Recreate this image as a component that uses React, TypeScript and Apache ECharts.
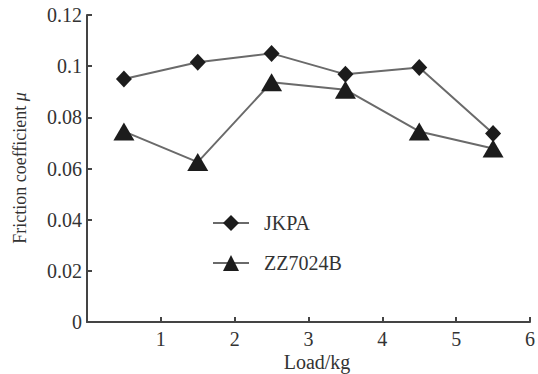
import React, { useEffect, useRef } from "react";
import * as echarts from "echarts";

const loads = [0.5, 1.5, 2.5, 3.5, 4.5, 5.5];
const jkpa = [0.095, 0.1015, 0.105, 0.0968, 0.0995, 0.0737];
const zz7024b = [0.0745, 0.0625, 0.0937, 0.0908, 0.0745, 0.0678];
const seriesNames = ["JKPA", "ZZ7024B"];
const xTicks = [0, 1, 2, 3, 4, 5, 6];
const yTicks = [0, 0.02, 0.04, 0.06, 0.08, 0.1, 0.12];

const FONT = "Liberation Serif";

export default function App() {
  const ref = useRef<HTMLDivElement>(null);
  useEffect(() => {
    if (!ref.current) return;
    const chart = echarts.init(ref.current, undefined, { renderer: "svg" });
    const axisColor = "#444";
    chart.setOption({
      animation: false,
      backgroundColor: "#fff",
      grid: { left: 87, right: 6, top: 15, bottom: 52 },
      xAxis: {
        type: "value",
        min: xTicks[0],
        max: xTicks[xTicks.length - 1],
        interval: 1,
        splitLine: { show: false },
        axisLine: { show: true, lineStyle: { color: axisColor, width: 2 } },
        axisTick: { show: true, inside: true, length: 5, lineStyle: { color: axisColor, width: 2 } },
        axisLabel: {
          margin: 7,
          color: "#333",
          fontFamily: FONT,
          fontSize: 20,
          formatter: (v: number) => (v === 0 ? "" : String(v)),
        },
      },
      yAxis: {
        type: "value",
        min: yTicks[0],
        max: yTicks[yTicks.length - 1],
        interval: 0.02,
        splitLine: { show: false },
        axisLine: { show: true, lineStyle: { color: axisColor, width: 2 } },
        axisTick: { show: true, inside: true, length: 5, lineStyle: { color: axisColor, width: 2 } },
        axisLabel: {
          margin: 5,
          color: "#333",
          fontFamily: FONT,
          fontSize: 20,
          formatter: (v: number) => String(parseFloat(v.toFixed(2))),
        },
      },
      legend: {
        orient: "vertical",
        left: 207,
        top: 208,
        itemWidth: 36,
        itemHeight: 20,
        itemGap: 20,
        textStyle: { fontFamily: FONT, fontSize: 20, color: "#333", padding: [0, 0, 0, 10] },
        data: seriesNames,
      },
      graphic: [
        {
          type: "text",
          x: 317,
          y: 362,
          style: {
            text: "Load/kg",
            fontFamily: FONT,
            fontSize: 20,
            fill: "#333",
            align: "center",
            verticalAlign: "middle",
          },
        },
        {
          type: "text",
          x: 20,
          y: 168,
          rotation: Math.PI / 2,
          style: {
            text: "Friction coefficient {mu|μ}",
            fontFamily: FONT,
            fontSize: 18,
            fill: "#333",
            align: "center",
            verticalAlign: "middle",
            rich: {
              mu: { fontFamily: FONT, fontSize: 18, fontStyle: "italic", fill: "#333" },
            },
          },
        },
      ],
      series: [
        {
          name: seriesNames[0],
          type: "line",
          data: loads.map((x, i) => [x, jkpa[i]]),
          symbol: "diamond",
          symbolSize: [16, 17],
          symbolKeepAspect: true,
          itemStyle: { color: "#1c1c1c" },
          lineStyle: { color: "#6a6a6a", width: 2 },
        },
        {
          name: seriesNames[1],
          type: "line",
          data: loads.map((x, i) => [x, zz7024b[i]]),
          symbol: "triangle",
          symbolSize: [21, 18],
          itemStyle: { color: "#1c1c1c" },
          lineStyle: { color: "#6a6a6a", width: 2 },
        },
      ],
    });
    return () => chart.dispose();
  }, []);
  return <div ref={ref} style={{ width: 538, height: 374, position: "absolute", left: 0, top: 0 }} />;
}
